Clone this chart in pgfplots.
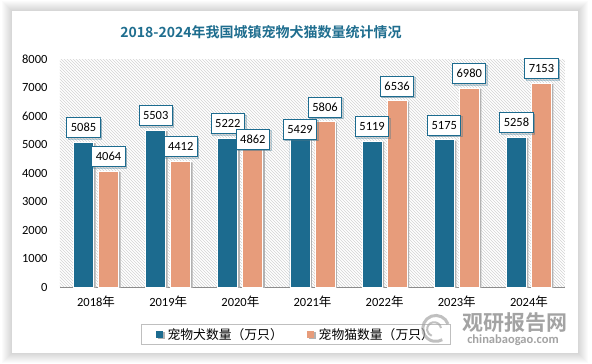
\documentclass[border=0pt]{standalone}
\usepackage{pgfplots}
\usepackage{pgfplotstable}
\pgfplotsset{compat=1.18}
\usepackage{fontspec}
\setmainfont{Carlito}
\newfontfamily\cjk{Noto Sans CJK SC}
\newfontfamily\cjkb{Noto Sans CJK SC Bold}
\usetikzlibrary{patterns,shadows}
\definecolor{dogc}{HTML}{1C6B8F}
\definecolor{catc}{HTML}{E79C7B}
\definecolor{titlec}{HTML}{1F6E8F}
\pgfplotstableread{
x y dy
0 5085 4
1 5503 4
2 5222 4
3 5429 -7.5
4 5119 4
5 5175 4
6 5258 4
}\dogdata
\pgfplotstableread{
x y dy
0 4064 4
1 4412 4
2 4862 -1.5
3 5806 4
4 6536 4
5 6980 4
6 7153 4
}\catdata
\begin{document}
\begin{tikzpicture}
% background and panel shadow
\fill[white] (0pt,0pt) rectangle (592pt,364pt);
\foreach \i in {1,...,10}{
  \fill[black, opacity=0.014] ({12pt-\i pt},{11pt-\i pt}) rectangle ({578pt+\i pt},{353pt+\i pt});
}
\fill[white] (12pt,11pt) rectangle (578pt,353pt);
% title
\node[font=\cjkb\fontsize{14}{16}\selectfont, text=titlec] at (261pt,332pt) {2018-2024年我国城镇宠物犬猫数量统计情况};
\begin{axis}[
  at={(60pt,77pt)}, anchor=south west,
  scale only axis, width=505pt, height=228pt,
  xmin=-0.5, xmax=6.5, ymin=0, ymax=8000,
  ybar=5pt, bar width=20pt,
  axis background/.style={pattern=north west lines, pattern color=black!17},
  axis x line*=bottom, axis y line*=left,
  x axis line style={draw=black!45, line width=0.8pt},
  y axis line style={draw=none},
  major tick length=0pt,
  xtick=data,
  xticklabels={{2018{\cjk 年}},{2019{\cjk 年}},{2020{\cjk 年}},{2021{\cjk 年}},{2022{\cjk 年}},{2023{\cjk 年}},{2024{\cjk 年}}},
  ytick={0,1000,...,8000},
  /pgf/number format/1000 sep={},
  /pgf/number format/assume math mode=true,
  ticklabel style={font=\fontsize{12.5}{14}\selectfont, text=black},
  yticklabel style={xshift=-9pt},
  xticklabel style={yshift=-5pt},
  nodes near coords,
  visualization depends on={\thisrow{dy} \as \dy},
  every node near coord/.append style={draw=dogc, fill=white, line width=1pt, text=black,
     font=\fontsize{12.5}{14}\selectfont, inner xsep=4pt, inner ysep=6pt, text height=8pt, text depth=0pt,
     anchor=south, yshift=\dy pt, drop shadow={shadow xshift=1.5pt, shadow yshift=-1.5pt, opacity=0.3}},
  legend columns=2,
  legend style={at={(0.467,-0.208)}, anchor=center, draw=black!25, line width=0.6pt,
     font=\cjk\fontsize{12.8}{14}\selectfont, inner xsep=14pt, inner ysep=2pt,
     /tikz/every even column/.append style={column sep=22pt}},
  legend image code/.code={\fill[#1, draw=none] (0pt,-3.5pt) rectangle (7pt,3.5pt); \path (9.5pt,0pt);},
  clip=false,
]
\addplot[fill=dogc, draw=white, line width=0.8pt,
  preaction={fill=black!30, draw=none, transform canvas={xshift=2pt,yshift=-1pt}}]
  table[x=x, y=y] {\dogdata};
\addlegendentry{宠物犬数量（万只）}
\addplot[fill=catc, draw=white, line width=0.8pt,
  preaction={fill=black!30, draw=none, transform canvas={xshift=2pt,yshift=-1pt}}]
  table[x=x, y=y] {\catdata};
\addlegendentry{宠物猫数量（万只）}
\end{axis}
% watermark
\node[font=\cjkb\fontsize{21}{22}\selectfont, text=black!45, opacity=0.8] at (515pt,41pt) {观研报告网};
\node[font=\fontsize{12.5}{13}\selectfont\bfseries, text=black!45, opacity=0.8] at (513pt,24pt) {chinabaogao.com};
\draw[black!35, line width=3pt, opacity=0.7] (448pt,40pt) arc (20:300:13pt);
\draw[black!35, line width=2pt, opacity=0.7] (441pt,36pt) arc (10:250:7pt);
\pgfresetboundingbox
\useasboundingbox (0pt,0pt) rectangle (592pt,364pt);
\end{tikzpicture}
\end{document}
